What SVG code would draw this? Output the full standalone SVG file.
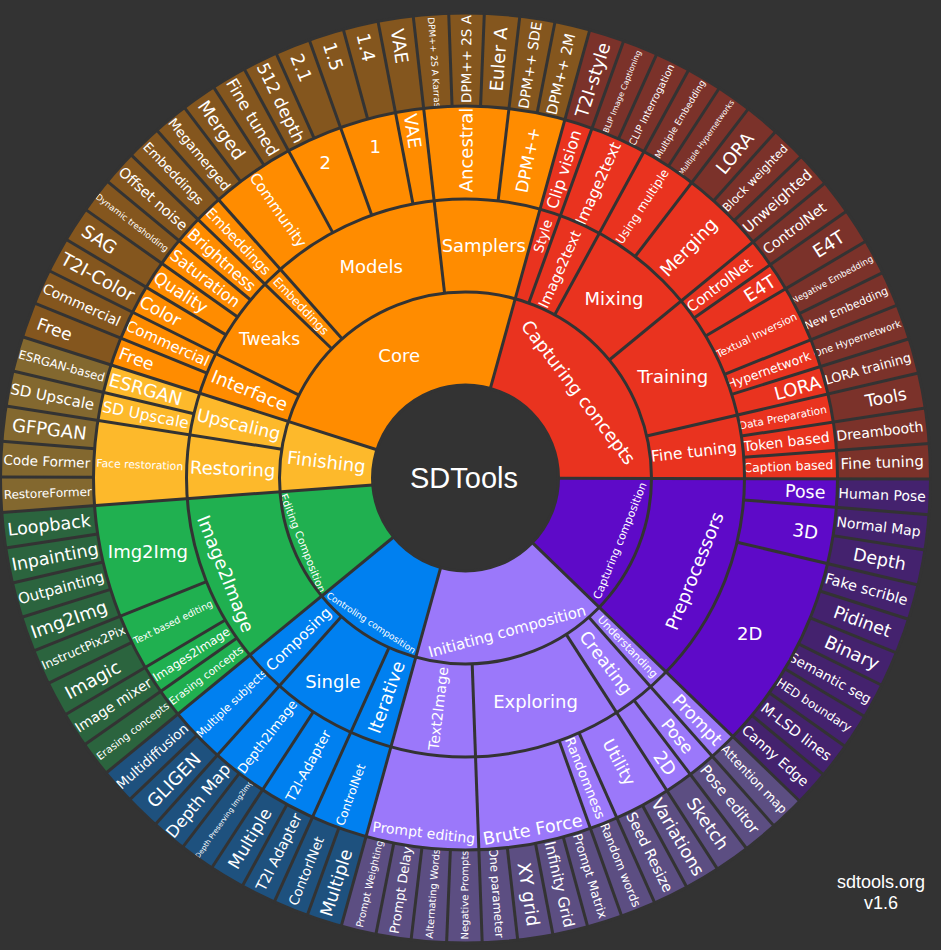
<svg xmlns="http://www.w3.org/2000/svg" width="941" height="950" viewBox="0 0 941 950">
<style>
circle{fill:none;stroke-width:93}
.c1{stroke:#ff8c00}.c2{stroke:#e9331f}.c3{stroke:#5e0ac8}.c4{stroke:#9b78fa}.c5{stroke:#0080f0}.c6{stroke:#20b050}.c7{stroke:#fdb92b}
.o{stroke-opacity:.4}
text{font-family:"DejaVu Sans",Verdana,sans-serif;fill:#fff;text-anchor:middle;dominant-baseline:central}
#borders line,#borders circle{stroke:#333;stroke-width:3;fill:none}
.plain{font-family:"Liberation Sans",Arial,sans-serif}
</style>
<rect width="941" height="950" fill="#333"/>
<g transform="translate(465.5 478)">
<!-- Level 1 -->
<g id="n-core"><circle r="139.5" class="c1" pathLength="360" stroke-dasharray="87.8 360" transform="rotate(197.69)"/><text transform="rotate(331.6) translate(0 -139.5) rotate(-331.6)" font-size="18">Core</text></g>
<g id="n-capturing-concepts"><circle r="139.5" class="c2" pathLength="360" stroke-dasharray="74.63 360" transform="rotate(-74.5)"/><text transform="rotate(52.8) translate(0 -142)" font-size="18">Capturing concepts</text></g>
<g id="n-capturing-composition"><circle r="139.5" class="c3" pathLength="360" stroke-dasharray="43.9 360" transform="rotate(0.13)"/><text transform="rotate(112.1) translate(0 -167) rotate(180)" font-size="11">Capturing composition</text></g>
<g id="n-initiating-composition"><circle r="139.5" class="c4" pathLength="360" stroke-dasharray="61.46 360" transform="rotate(44.04)"/><text transform="rotate(164.8) translate(0 -159) rotate(180)" font-size="15">Initiating composition</text></g>
<g id="n-controling-composition"><circle r="139.5" class="c5" pathLength="360" stroke-dasharray="35.12 360" transform="rotate(105.5)"/><text transform="rotate(213.1) translate(0 -173) rotate(180)" font-size="9">Controling composition</text></g>
<g id="n-editing-composition"><circle r="139.5" class="c6" pathLength="360" stroke-dasharray="35.12 360" transform="rotate(140.62)"/><text transform="rotate(248.2) translate(0 -175) rotate(180)" font-size="10.5">Editing Composition</text></g>
<g id="n-finishing"><circle r="139.5" class="c7" pathLength="360" stroke-dasharray="21.95 360" transform="rotate(175.74)"/><text transform="rotate(276.7) translate(0 -140) rotate(90)" font-size="18">Finishing</text></g>

<!-- Level 2 -->
<g id="n-interface"><circle r="232.5" class="c1" pathLength="360" stroke-dasharray="8.78 360" transform="rotate(197.69)"/><text transform="rotate(292.1) translate(0 -233) rotate(90)" font-size="18">Interface</text></g>
<g id="n-tweaks"><circle r="232.5" class="c1" pathLength="360" stroke-dasharray="17.56 360" transform="rotate(206.47)"/><text transform="rotate(305.25) translate(0 -240) rotate(-305.25)" font-size="17">Tweaks</text></g>
<g id="n-embeddings-2"><circle r="232.5" class="c1" pathLength="360" stroke-dasharray="4.39 360" transform="rotate(224.03)"/><text transform="rotate(316.2) translate(0 -238) rotate(90)" font-size="12">Embeddings</text></g>
<g id="n-models"><circle r="232.5" class="c1" pathLength="360" stroke-dasharray="35.12 360" transform="rotate(228.42)"/><text transform="rotate(336) translate(0 -232) rotate(-336)" font-size="18">Models</text></g>
<g id="n-samplers"><circle r="232.5" class="c1" pathLength="360" stroke-dasharray="21.95 360" transform="rotate(263.54)"/><text transform="rotate(4.5) translate(0 -233) rotate(-4.5)" font-size="18">Samplers</text></g>
<g id="n-style"><circle r="232.5" class="c2" pathLength="360" stroke-dasharray="4.39 360" transform="rotate(-74.5)"/><text transform="rotate(17.7) translate(0 -254) rotate(-90)" font-size="13.5">Style</text></g>
<g id="n-image2text-2"><circle r="232.5" class="c2" pathLength="360" stroke-dasharray="8.78 360" transform="rotate(-70.11)"/><text transform="rotate(24.3) translate(0 -229) rotate(-90)" font-size="14.5">Image2text</text></g>
<g id="n-mixing"><circle r="232.5" class="c2" pathLength="360" stroke-dasharray="21.95 360" transform="rotate(-61.33)"/><text transform="rotate(39.6) translate(0 -233) rotate(-39.6)" font-size="18">Mixing</text></g>
<g id="n-training"><circle r="232.5" class="c2" pathLength="360" stroke-dasharray="26.34 360" transform="rotate(-39.38)"/><text transform="rotate(63.8) translate(0 -231) rotate(-63.8)" font-size="18">Training</text></g>
<g id="n-fine-tuning-2"><circle r="232.5" class="c2" pathLength="360" stroke-dasharray="13.17 360" transform="rotate(-13.04)"/><text transform="rotate(83.5) translate(0 -230) rotate(-90)" font-size="15.5">Fine tuning</text></g>
<g id="n-preprocessors"><circle r="232.5" class="c3" pathLength="360" stroke-dasharray="43.9 360" transform="rotate(0.13)"/><text transform="rotate(112.1) translate(0 -247) rotate(180)" font-size="18">Preprocessors</text></g>
<g id="n-understanding"><circle r="232.5" class="c4" pathLength="360" stroke-dasharray="4.39 360" transform="rotate(44.04)"/><text transform="rotate(136.2) translate(0 -234) rotate(-90)" font-size="11">Understanding</text></g>
<g id="n-creating"><circle r="232.5" class="c4" pathLength="360" stroke-dasharray="8.78 360" transform="rotate(48.43)"/><text transform="rotate(142.8) translate(0 -232) rotate(-90)" font-size="17.5">Creating</text></g>
<g id="n-exploring"><circle r="232.5" class="c4" pathLength="360" stroke-dasharray="30.73 360" transform="rotate(57.21)"/><text transform="rotate(162.6) translate(0 -234) rotate(-162.6)" font-size="18">Exploring</text></g>
<g id="n-text2image"><circle r="232.5" class="c4" pathLength="360" stroke-dasharray="17.56 360" transform="rotate(87.94)"/><text transform="rotate(186.7) translate(0 -232) rotate(90)" font-size="14.5">Text2Image</text></g>
<g id="n-iterative"><circle r="232.5" class="c5" pathLength="360" stroke-dasharray="8.78 360" transform="rotate(105.5)"/><text transform="rotate(199.9) translate(0 -233) rotate(90)" font-size="18">Iterative</text></g>
<g id="n-single"><circle r="232.5" class="c5" pathLength="360" stroke-dasharray="17.56 360" transform="rotate(114.28)"/><text transform="rotate(213.1) translate(0 -243) rotate(-213.1)" font-size="18">Single</text></g>
<g id="n-composing"><circle r="232.5" class="c5" pathLength="360" stroke-dasharray="8.78 360" transform="rotate(131.84)"/><text transform="rotate(226) translate(0 -232) rotate(90)" font-size="15">Composing</text></g>
<g id="n-image2image"><circle r="232.5" class="c6" pathLength="360" stroke-dasharray="35.12 360" transform="rotate(140.62)"/><text transform="rotate(248.2) translate(0 -258) rotate(180)" font-size="18">Image2Image</text></g>
<g id="n-restoring"><circle r="232.5" class="c7" pathLength="360" stroke-dasharray="13.17 360" transform="rotate(175.74)"/><text transform="rotate(272.3) translate(0 -233) rotate(90)" font-size="18">Restoring</text></g>
<g id="n-upscaling"><circle r="232.5" class="c7" pathLength="360" stroke-dasharray="8.78 360" transform="rotate(188.91)"/><text transform="rotate(283.3) translate(0 -233) rotate(90)" font-size="17.5">Upscaling</text></g>

<!-- Level 3 -->
<g id="n-free-3"><circle r="325.5" class="c1" pathLength="360" stroke-dasharray="4.39 360" transform="rotate(197.69)"/><text transform="rotate(289.9) translate(0 -350) rotate(90)" font-size="17">Free</text></g>
<g id="n-commercial-3"><circle r="325.5" class="c1" pathLength="360" stroke-dasharray="4.39 360" transform="rotate(202.08)"/><text transform="rotate(294.3) translate(0 -327) rotate(90)" font-size="15">Commercial</text></g>
<g id="n-color"><circle r="325.5" class="c1" pathLength="360" stroke-dasharray="4.39 360" transform="rotate(206.47)"/><text transform="rotate(298.7) translate(0 -348) rotate(90)" font-size="17">Color</text></g>
<g id="n-quality"><circle r="325.5" class="c1" pathLength="360" stroke-dasharray="4.39 360" transform="rotate(210.86)"/><text transform="rotate(303.1) translate(0 -340) rotate(90)" font-size="17">Quality</text></g>
<g id="n-saturation"><circle r="325.5" class="c1" pathLength="360" stroke-dasharray="4.39 360" transform="rotate(215.25)"/><text transform="rotate(307.45) translate(0 -328) rotate(90)" font-size="16">Saturation</text></g>
<g id="n-brightness"><circle r="325.5" class="c1" pathLength="360" stroke-dasharray="4.39 360" transform="rotate(219.64)"/><text transform="rotate(311.8) translate(0 -327) rotate(90)" font-size="16">Brightness</text></g>
<g id="n-embeddings-3"><circle r="325.5" class="c1" pathLength="360" stroke-dasharray="4.39 360" transform="rotate(224.03)"/><text transform="rotate(316.2) translate(0 -328) rotate(90)" font-size="14">Embeddings</text></g>
<g id="n-community"><circle r="325.5" class="c1" pathLength="360" stroke-dasharray="13.17 360" transform="rotate(228.42)"/><text transform="rotate(325) translate(0 -327) rotate(90)" font-size="15">Community</text></g>
<g id="n-v2"><circle r="325.5" class="c1" pathLength="360" stroke-dasharray="8.78 360" transform="rotate(241.59)"/><text transform="rotate(336) translate(0 -345) rotate(-336)" font-size="18">2</text></g>
<g id="n-v1"><circle r="325.5" class="c1" pathLength="360" stroke-dasharray="8.78 360" transform="rotate(250.37)"/><text transform="rotate(344.8) translate(0 -344) rotate(-344.8)" font-size="18">1</text></g>
<g id="n-vae-3"><circle r="325.5" class="c1" pathLength="360" stroke-dasharray="4.39 360" transform="rotate(259.15)"/><text transform="rotate(351.35) translate(0 -351) rotate(90)" font-size="18">VAE</text></g>
<g id="n-ancestral"><circle r="325.5" class="c1" pathLength="360" stroke-dasharray="13.17 360" transform="rotate(263.54)"/><text transform="rotate(0.1) translate(0 -328) rotate(-90)" font-size="18">Ancestral</text></g>
<g id="n-dpmpp"><circle r="325.5" class="c1" pathLength="360" stroke-dasharray="8.78 360" transform="rotate(276.71)"/><text transform="rotate(11.1) translate(0 -324) rotate(-90)" font-size="17">DPM++</text></g>
<g id="n-clip-vision"><circle r="325.5" class="c2" pathLength="360" stroke-dasharray="4.39 360" transform="rotate(-74.5)"/><text transform="rotate(17.7) translate(0 -324) rotate(-90)" font-size="16">Clip vision</text></g>
<g id="n-image2text-3"><circle r="325.5" class="c2" pathLength="360" stroke-dasharray="8.78 360" transform="rotate(-70.11)"/><text transform="rotate(24.3) translate(0 -323) rotate(-90)" font-size="15.5">Image2text</text></g>
<g id="n-using-multiple"><circle r="325.5" class="c2" pathLength="360" stroke-dasharray="8.78 360" transform="rotate(-61.33)"/><text transform="rotate(33.1) translate(0 -324) rotate(-90)" font-size="12">Using multiple</text></g>
<g id="n-merging"><circle r="325.5" class="c2" pathLength="360" stroke-dasharray="13.17 360" transform="rotate(-52.55)"/><text transform="rotate(44) translate(0 -321) rotate(-90)" font-size="18">Merging</text></g>
<g id="n-controlnet-3"><circle r="325.5" class="c2" pathLength="360" stroke-dasharray="4.39 360" transform="rotate(-39.38)"/><text transform="rotate(52.8) translate(0 -319) rotate(-90)" font-size="14.5">ControlNet</text></g>
<g id="n-e4t-3"><circle r="325.5" class="c2" pathLength="360" stroke-dasharray="4.39 360" transform="rotate(-34.99)"/><text transform="rotate(57.2) translate(0 -350) rotate(-90)" font-size="18">E4T</text></g>
<g id="n-textual-inversion"><circle r="325.5" class="c2" pathLength="360" stroke-dasharray="8.78 360" transform="rotate(-30.6)"/><text transform="rotate(63.8) translate(0 -324) rotate(-90)" font-size="10.5">Textual Inversion</text></g>
<g id="n-hypernetwork"><circle r="325.5" class="c2" pathLength="360" stroke-dasharray="4.39 360" transform="rotate(-21.82)"/><text transform="rotate(70.4) translate(0 -322) rotate(-90)" font-size="12.5">Hypernetwork</text></g>
<g id="n-lora-3"><circle r="325.5" class="c2" pathLength="360" stroke-dasharray="4.39 360" transform="rotate(-17.43)"/><text transform="rotate(74.8) translate(0 -344) rotate(-90)" font-size="18">LORA</text></g>
<g id="n-data-preparation"><circle r="325.5" class="c2" pathLength="360" stroke-dasharray="4.39 360" transform="rotate(-13.04)"/><text transform="rotate(79.15) translate(0 -323) rotate(-90)" font-size="10.5">Data Preparation</text></g>
<g id="n-token-based"><circle r="325.5" class="c2" pathLength="360" stroke-dasharray="4.39 360" transform="rotate(-8.65)"/><text transform="rotate(83.55) translate(0 -323) rotate(-90)" font-size="14">Token based</text></g>
<g id="n-caption-based"><circle r="325.5" class="c2" pathLength="360" stroke-dasharray="4.39 360" transform="rotate(-4.26)"/><text transform="rotate(87.9) translate(0 -323) rotate(-90)" font-size="12.5">Caption based</text></g>
<g id="n-pose-3a"><circle r="325.5" class="c3" pathLength="360" stroke-dasharray="4.39 360" transform="rotate(0.13)"/><text transform="rotate(92.3) translate(0 -340) rotate(-90)" font-size="17.5">Pose</text></g>
<g id="n-3d"><circle r="325.5" class="c3" pathLength="360" stroke-dasharray="8.78 360" transform="rotate(4.52)"/><text transform="rotate(98.9) translate(0 -344) rotate(-90)" font-size="18">3D</text></g>
<g id="n-2d-3a"><circle r="325.5" class="c3" pathLength="360" stroke-dasharray="30.73 360" transform="rotate(13.3)"/><text transform="rotate(118.7) translate(0 -324) rotate(-118.7)" font-size="18">2D</text></g>
<g id="n-prompt"><circle r="325.5" class="c4" pathLength="360" stroke-dasharray="4.39 360" transform="rotate(44.04)"/><text transform="rotate(136.2) translate(0 -335) rotate(-90)" font-size="17.5">Prompt</text></g>
<g id="n-pose-3b"><circle r="325.5" class="c4" pathLength="360" stroke-dasharray="4.39 360" transform="rotate(48.43)"/><text transform="rotate(140.6) translate(0 -334) rotate(-90)" font-size="17">Pose</text></g>
<g id="n-2d-3b"><circle r="325.5" class="c4" pathLength="360" stroke-dasharray="4.39 360" transform="rotate(52.82)"/><text transform="rotate(145) translate(0 -348) rotate(-90)" font-size="18">2D</text></g>
<g id="n-utility"><circle r="325.5" class="c4" pathLength="360" stroke-dasharray="8.78 360" transform="rotate(57.21)"/><text transform="rotate(151.6) translate(0 -323) rotate(-90)" font-size="17">Utility</text></g>
<g id="n-randomness"><circle r="325.5" class="c4" pathLength="360" stroke-dasharray="4.39 360" transform="rotate(65.99)"/><text transform="rotate(158.2) translate(0 -323) rotate(-90)" font-size="13.5">Randomness</text></g>
<g id="n-brute-force"><circle r="325.5" class="c4" pathLength="360" stroke-dasharray="17.56 360" transform="rotate(70.38)"/><text transform="rotate(169.2) translate(0 -358) rotate(180)" font-size="17.5">Brute Force</text></g>
<g id="n-prompt-editing"><circle r="325.5" class="c4" pathLength="360" stroke-dasharray="17.56 360" transform="rotate(87.94)"/><text transform="rotate(186.7) translate(0 -357) rotate(180)" font-size="14">Prompt editing</text></g>
<g id="n-controlnet-3b"><circle r="325.5" class="c5" pathLength="360" stroke-dasharray="8.78 360" transform="rotate(105.5)"/><text transform="rotate(199.9) translate(0 -337) rotate(90)" font-size="12">ControlNet</text></g>
<g id="n-t2i-adapter-3"><circle r="325.5" class="c5" pathLength="360" stroke-dasharray="8.78 360" transform="rotate(114.28)"/><text transform="rotate(208.7) translate(0 -328) rotate(90)" font-size="13.5">T2I-Adapter</text></g>
<g id="n-depth2image"><circle r="325.5" class="c5" pathLength="360" stroke-dasharray="8.78 360" transform="rotate(123.06)"/><text transform="rotate(217.45) translate(0 -326) rotate(90)" font-size="13">Depth2Image</text></g>
<g id="n-multiple-subjects"><circle r="325.5" class="c5" pathLength="360" stroke-dasharray="8.78 360" transform="rotate(131.84)"/><text transform="rotate(226) translate(0 -325) rotate(90)" font-size="11">Multiple subjects</text></g>
<g id="n-erasing-concepts-3"><circle r="325.5" class="c6" pathLength="360" stroke-dasharray="4.39 360" transform="rotate(140.62)"/><text transform="rotate(232.8) translate(0 -326) rotate(90)" font-size="10.5">Erasing concepts</text></g>
<g id="n-images2image"><circle r="325.5" class="c6" pathLength="360" stroke-dasharray="4.39 360" transform="rotate(145.01)"/><text transform="rotate(237.2) translate(0 -326) rotate(90)" font-size="12">Images2Image</text></g>
<g id="n-text-based-editing"><circle r="325.5" class="c6" pathLength="360" stroke-dasharray="8.78 360" transform="rotate(149.4)"/><text transform="rotate(243.8) translate(0 -326) rotate(90)" font-size="9.5">Text based editing</text></g>
<g id="n-img2img-3"><circle r="325.5" class="c6" pathLength="360" stroke-dasharray="17.56 360" transform="rotate(158.18)"/><text transform="rotate(257) translate(0 -326) rotate(-257)" font-size="18">Img2Img</text></g>
<g id="n-face-restoration"><circle r="325.5" class="c7" pathLength="360" stroke-dasharray="13.17 360" transform="rotate(175.74)"/><text transform="rotate(272.3) translate(0 -326) rotate(90)" font-size="10.8">Face restoration</text></g>
<g id="n-sd-upscale-3"><circle r="325.5" class="c7" pathLength="360" stroke-dasharray="4.39 360" transform="rotate(188.91)"/><text transform="rotate(281.1) translate(0 -326) rotate(90)" font-size="15.5">SD Upscale</text></g>
<g id="n-esrgan"><circle r="325.5" class="c7" pathLength="360" stroke-dasharray="4.39 360" transform="rotate(193.3)"/><text transform="rotate(285.5) translate(0 -332) rotate(90)" font-size="18">ESRGAN</text></g>

<!-- Level 4 (leaves) -->
<g id="n-t2i-style"><circle r="418.5" class="c2 o" pathLength="360" stroke-dasharray="4.39 360" transform="rotate(-74.5)"/><text transform="rotate(17.7) translate(0 -418) rotate(-90)" font-size="18">T2I-style</text></g>
<g id="n-blip"><circle r="418.5" class="c2 o" pathLength="360" stroke-dasharray="4.39 360" transform="rotate(-70.11)"/><text transform="rotate(22.1) translate(0 -417) rotate(-90)" font-size="7.8">BLIP Image Captioning</text></g>
<g id="n-clip-interrogation"><circle r="418.5" class="c2 o" pathLength="360" stroke-dasharray="4.39 360" transform="rotate(-65.72)"/><text transform="rotate(26.5) translate(0 -417) rotate(-90)" font-size="10">CLIP Interrogation</text></g>
<g id="n-multiple-embedding"><circle r="418.5" class="c2 o" pathLength="360" stroke-dasharray="4.39 360" transform="rotate(-61.33)"/><text transform="rotate(30.9) translate(0 -418) rotate(-90)" font-size="9">Multiple Embedding</text></g>
<g id="n-multiple-hypernetworks"><circle r="418.5" class="c2 o" pathLength="360" stroke-dasharray="4.39 360" transform="rotate(-56.94)"/><text transform="rotate(35.3) translate(0 -417) rotate(-90)" font-size="7.6">Multiple Hypernetworks</text></g>
<g id="n-lora-4"><circle r="418.5" class="c2 o" pathLength="360" stroke-dasharray="4.39 360" transform="rotate(-52.55)"/><text transform="rotate(39.65) translate(0 -422) rotate(-90)" font-size="18">LORA</text></g>
<g id="n-block-weighted"><circle r="418.5" class="c2 o" pathLength="360" stroke-dasharray="4.39 360" transform="rotate(-48.16)"/><text transform="rotate(44) translate(0 -417) rotate(-90)" font-size="11.5">Block weighted</text></g>
<g id="n-unweighted"><circle r="418.5" class="c2 o" pathLength="360" stroke-dasharray="4.39 360" transform="rotate(-43.77)"/><text transform="rotate(48.4) translate(0 -417) rotate(-90)" font-size="14.5">Unweighted</text></g>
<g id="n-controlnet-4"><circle r="418.5" class="c2 o" pathLength="360" stroke-dasharray="4.39 360" transform="rotate(-39.38)"/><text transform="rotate(52.8) translate(0 -413) rotate(-90)" font-size="14">ControlNet</text></g>
<g id="n-e4t-4"><circle r="418.5" class="c2 o" pathLength="360" stroke-dasharray="4.39 360" transform="rotate(-34.99)"/><text transform="rotate(57.2) translate(0 -432) rotate(-90)" font-size="18">E4T</text></g>
<g id="n-negative-embedding"><circle r="418.5" class="c2 o" pathLength="360" stroke-dasharray="4.39 360" transform="rotate(-30.6)"/><text transform="rotate(61.6) translate(0 -417) rotate(-90)" font-size="8.7">Negative Embedding</text></g>
<g id="n-new-embedding"><circle r="418.5" class="c2 o" pathLength="360" stroke-dasharray="4.39 360" transform="rotate(-26.21)"/><text transform="rotate(66) translate(0 -417) rotate(-90)" font-size="11">New Embedding</text></g>
<g id="n-one-hypernetwork"><circle r="418.5" class="c2 o" pathLength="360" stroke-dasharray="4.39 360" transform="rotate(-21.82)"/><text transform="rotate(70.4) translate(0 -416) rotate(-90)" font-size="9.8">One Hypernetwork</text></g>
<g id="n-lora-training"><circle r="418.5" class="c2 o" pathLength="360" stroke-dasharray="4.39 360" transform="rotate(-17.43)"/><text transform="rotate(74.8) translate(0 -417) rotate(-90)" font-size="13">LORA training</text></g>
<g id="n-tools"><circle r="418.5" class="c2 o" pathLength="360" stroke-dasharray="4.39 360" transform="rotate(-13.04)"/><text transform="rotate(79.15) translate(0 -428) rotate(-90)" font-size="17">Tools</text></g>
<g id="n-dreambooth"><circle r="418.5" class="c2 o" pathLength="360" stroke-dasharray="4.39 360" transform="rotate(-8.65)"/><text transform="rotate(83.55) translate(0 -417) rotate(-90)" font-size="14">Dreambooth</text></g>
<g id="n-fine-tuning-4"><circle r="418.5" class="c2 o" pathLength="360" stroke-dasharray="4.39 360" transform="rotate(-4.26)"/><text transform="rotate(87.9) translate(0 -417) rotate(-90)" font-size="15">Fine tuning</text></g>

<g id="n-human-pose"><circle r="418.5" class="c3 o" pathLength="360" stroke-dasharray="4.39 360" transform="rotate(0.13)"/><text transform="rotate(92.3) translate(0 -417) rotate(-90)" font-size="14">Human Pose</text></g>
<g id="n-normal-map"><circle r="418.5" class="c3 o" pathLength="360" stroke-dasharray="4.39 360" transform="rotate(4.52)"/><text transform="rotate(96.7) translate(0 -416) rotate(-90)" font-size="14">Normal Map</text></g>
<g id="n-depth"><circle r="418.5" class="c3 o" pathLength="360" stroke-dasharray="4.39 360" transform="rotate(8.91)"/><text transform="rotate(101.1) translate(0 -422) rotate(-90)" font-size="17.5">Depth</text></g>
<g id="n-fake-scrible"><circle r="418.5" class="c3 o" pathLength="360" stroke-dasharray="4.39 360" transform="rotate(13.3)"/><text transform="rotate(105.5) translate(0 -416) rotate(-90)" font-size="14.5">Fake scrible</text></g>
<g id="n-pidinet"><circle r="418.5" class="c3 o" pathLength="360" stroke-dasharray="4.39 360" transform="rotate(17.69)"/><text transform="rotate(109.9) translate(0 -422) rotate(-90)" font-size="17.5">Pidinet</text></g>
<g id="n-binary"><circle r="418.5" class="c3 o" pathLength="360" stroke-dasharray="4.39 360" transform="rotate(22.08)"/><text transform="rotate(114.3) translate(0 -424) rotate(-90)" font-size="18">Binary</text></g>
<g id="n-semantic-seg"><circle r="418.5" class="c3 o" pathLength="360" stroke-dasharray="4.39 360" transform="rotate(26.47)"/><text transform="rotate(118.7) translate(0 -416) rotate(-90)" font-size="13.5">Semantic seg</text></g>
<g id="n-hed-boundary"><circle r="418.5" class="c3 o" pathLength="360" stroke-dasharray="4.39 360" transform="rotate(30.86)"/><text transform="rotate(123.1) translate(0 -416) rotate(-90)" font-size="12">HED boundary</text></g>
<g id="n-mlsd-lines"><circle r="418.5" class="c3 o" pathLength="360" stroke-dasharray="4.39 360" transform="rotate(35.26)"/><text transform="rotate(127.5) translate(0 -417) rotate(-90)" font-size="14.5">M-LSD lines</text></g>
<g id="n-canny-edge"><circle r="418.5" class="c3 o" pathLength="360" stroke-dasharray="4.39 360" transform="rotate(39.65)"/><text transform="rotate(131.85) translate(0 -416) rotate(-90)" font-size="14">Canny Edge</text></g>

<g id="n-attention-map"><circle r="418.5" class="c4 o" pathLength="360" stroke-dasharray="4.39 360" transform="rotate(44.04)"/><text transform="rotate(136.2) translate(0 -417) rotate(-90)" font-size="12.5">Attention map</text></g>
<g id="n-pose-editor"><circle r="418.5" class="c4 o" pathLength="360" stroke-dasharray="4.39 360" transform="rotate(48.43)"/><text transform="rotate(140.6) translate(0 -416) rotate(-90)" font-size="15">Pose editor</text></g>
<g id="n-sketch"><circle r="418.5" class="c4 o" pathLength="360" stroke-dasharray="4.39 360" transform="rotate(52.82)"/><text transform="rotate(145) translate(0 -422) rotate(-90)" font-size="17.5">Sketch</text></g>
<g id="n-variations"><circle r="418.5" class="c4 o" pathLength="360" stroke-dasharray="4.39 360" transform="rotate(57.21)"/><text transform="rotate(149.4) translate(0 -417) rotate(-90)" font-size="17.5">Variations</text></g>
<g id="n-seed-resize"><circle r="418.5" class="c4 o" pathLength="360" stroke-dasharray="4.39 360" transform="rotate(61.6)"/><text transform="rotate(153.8) translate(0 -417) rotate(-90)" font-size="14.5">Seed Resize</text></g>
<g id="n-random-words"><circle r="418.5" class="c4 o" pathLength="360" stroke-dasharray="4.39 360" transform="rotate(65.99)"/><text transform="rotate(158.2) translate(0 -417) rotate(-90)" font-size="12">Random words</text></g>
<g id="n-prompt-matrix"><circle r="418.5" class="c4 o" pathLength="360" stroke-dasharray="4.39 360" transform="rotate(70.38)"/><text transform="rotate(162.6) translate(0 -417) rotate(-90)" font-size="12.5">Prompt Matrix</text></g>
<g id="n-infinity-grid"><circle r="418.5" class="c4 o" pathLength="360" stroke-dasharray="4.39 360" transform="rotate(74.77)"/><text transform="rotate(167) translate(0 -417) rotate(-90)" font-size="15">Infinity Grid</text></g>
<g id="n-xy-grid"><circle r="418.5" class="c4 o" pathLength="360" stroke-dasharray="4.39 360" transform="rotate(79.16)"/><text transform="rotate(171.35) translate(0 -421) rotate(-90)" font-size="18">XY grid</text></g>
<g id="n-one-parameter"><circle r="418.5" class="c4 o" pathLength="360" stroke-dasharray="4.39 360" transform="rotate(83.55)"/><text transform="rotate(175.75) translate(0 -416) rotate(-90)" font-size="11.8">One parameter</text></g>
<g id="n-negative-prompts"><circle r="418.5" class="c4 o" pathLength="360" stroke-dasharray="4.39 360" transform="rotate(87.94)"/><text transform="rotate(180.1) translate(0 -417) rotate(90)" font-size="10">Negative Prompts</text></g>
<g id="n-alternating-words"><circle r="418.5" class="c4 o" pathLength="360" stroke-dasharray="4.39 360" transform="rotate(92.33)"/><text transform="rotate(184.5) translate(0 -417) rotate(90)" font-size="10">Alternating Words</text></g>
<g id="n-prompt-delay"><circle r="418.5" class="c4 o" pathLength="360" stroke-dasharray="4.39 360" transform="rotate(96.72)"/><text transform="rotate(188.9) translate(0 -417) rotate(90)" font-size="13">Prompt Delay</text></g>
<g id="n-prompt-weighting"><circle r="418.5" class="c4 o" pathLength="360" stroke-dasharray="4.39 360" transform="rotate(101.11)"/><text transform="rotate(193.3) translate(0 -417) rotate(90)" font-size="10">Prompt Weighting</text></g>

<g id="n-multiple-a"><circle r="418.5" class="c5 o" pathLength="360" stroke-dasharray="4.39 360" transform="rotate(105.5)"/><text transform="rotate(197.7) translate(0 -425) rotate(90)" font-size="17.5">Multiple</text></g>
<g id="n-contorlnet"><circle r="418.5" class="c5 o" pathLength="360" stroke-dasharray="4.39 360" transform="rotate(109.89)"/><text transform="rotate(202.1) translate(0 -424) rotate(90)" font-size="13.5">ContorlNet</text></g>
<g id="n-t2i-adapter-4"><circle r="418.5" class="c5 o" pathLength="360" stroke-dasharray="4.39 360" transform="rotate(114.28)"/><text transform="rotate(206.5) translate(0 -418) rotate(90)" font-size="14.5">T2I Adapter</text></g>
<g id="n-multiple-b"><circle r="418.5" class="c5 o" pathLength="360" stroke-dasharray="4.39 360" transform="rotate(118.67)"/><text transform="rotate(210.9) translate(0 -420) rotate(90)" font-size="17">Multiple</text></g>
<g id="n-depth-preserving"><circle r="418.5" class="c5 o" pathLength="360" stroke-dasharray="4.39 360" transform="rotate(123.06)"/><text transform="rotate(215.25) translate(0 -418) rotate(90)" font-size="7">Depth Preserving Img2Img</text></g>
<g id="n-depth-map"><circle r="418.5" class="c5 o" pathLength="360" stroke-dasharray="4.39 360" transform="rotate(127.45)"/><text transform="rotate(219.6) translate(0 -419) rotate(90)" font-size="16.5">Depth Map</text></g>
<g id="n-gligen"><circle r="418.5" class="c5 o" pathLength="360" stroke-dasharray="4.39 360" transform="rotate(131.84)"/><text transform="rotate(224) translate(0 -420) rotate(90)" font-size="18">GLIGEN</text></g>
<g id="n-multidiffusion"><circle r="418.5" class="c5 o" pathLength="360" stroke-dasharray="4.39 360" transform="rotate(136.23)"/><text transform="rotate(228.4) translate(0 -419) rotate(90)" font-size="13.5">Multidiffusion</text></g>

<g id="n-erasing-concepts-4"><circle r="418.5" class="c6 o" pathLength="360" stroke-dasharray="4.39 360" transform="rotate(140.62)"/><text transform="rotate(232.8) translate(0 -418) rotate(90)" font-size="10.3">Erasing concepts</text></g>
<g id="n-image-mixer"><circle r="418.5" class="c6 o" pathLength="360" stroke-dasharray="4.39 360" transform="rotate(145.01)"/><text transform="rotate(237.2) translate(0 -419) rotate(90)" font-size="14">Image mixer</text></g>
<g id="n-imagic"><circle r="418.5" class="c6 o" pathLength="360" stroke-dasharray="4.39 360" transform="rotate(149.4)"/><text transform="rotate(241.6) translate(0 -424) rotate(90)" font-size="18">Imagic</text></g>
<g id="n-instructpix2pix"><circle r="418.5" class="c6 o" pathLength="360" stroke-dasharray="4.39 360" transform="rotate(153.79)"/><text transform="rotate(246) translate(0 -418) rotate(90)" font-size="12.3">InstructPix2Pix</text></g>
<g id="n-img2img-4"><circle r="418.5" class="c6 o" pathLength="360" stroke-dasharray="4.39 360" transform="rotate(158.18)"/><text transform="rotate(250.4) translate(0 -421) rotate(90)" font-size="18">Img2Img</text></g>
<g id="n-outpainting"><circle r="418.5" class="c6 o" pathLength="360" stroke-dasharray="4.39 360" transform="rotate(162.57)"/><text transform="rotate(254.8) translate(0 -419) rotate(90)" font-size="15">Outpainting</text></g>
<g id="n-inpainting"><circle r="418.5" class="c6 o" pathLength="360" stroke-dasharray="4.39 360" transform="rotate(166.96)"/><text transform="rotate(259.15) translate(0 -418) rotate(90)" font-size="17.5">Inpainting</text></g>
<g id="n-loopback"><circle r="418.5" class="c6 o" pathLength="360" stroke-dasharray="4.39 360" transform="rotate(171.35)"/><text transform="rotate(263.55) translate(0 -419) rotate(90)" font-size="17.5">Loopback</text></g>

<g id="n-restoreformer"><circle r="418.5" class="c7 o" pathLength="360" stroke-dasharray="4.39 360" transform="rotate(175.74)"/><text transform="rotate(267.9) translate(0 -418) rotate(90)" font-size="12">RestoreFormer</text></g>
<g id="n-code-former"><circle r="418.5" class="c7 o" pathLength="360" stroke-dasharray="4.39 360" transform="rotate(180.13)"/><text transform="rotate(272.3) translate(0 -419) rotate(90)" font-size="13.5">Code Former</text></g>
<g id="n-gfpgan"><circle r="418.5" class="c7 o" pathLength="360" stroke-dasharray="4.39 360" transform="rotate(184.52)"/><text transform="rotate(276.7) translate(0 -419) rotate(90)" font-size="18">GFPGAN</text></g>
<g id="n-sd-upscale-4"><circle r="418.5" class="c7 o" pathLength="360" stroke-dasharray="4.39 360" transform="rotate(188.91)"/><text transform="rotate(281.1) translate(0 -421) rotate(90)" font-size="15">SD Upscale</text></g>
<g id="n-esrgan-based"><circle r="418.5" class="c7 o" pathLength="360" stroke-dasharray="4.39 360" transform="rotate(193.3)"/><text transform="rotate(285.5) translate(0 -419) rotate(90)" font-size="11.8">ESRGAN-based</text></g>

<g id="n-free-4"><circle r="418.5" class="c1 o" pathLength="360" stroke-dasharray="4.39 360" transform="rotate(197.69)"/><text transform="rotate(289.9) translate(0 -437) rotate(90)" font-size="17">Free</text></g>
<g id="n-commercial-4"><circle r="418.5" class="c1 o" pathLength="360" stroke-dasharray="4.39 360" transform="rotate(202.08)"/><text transform="rotate(294.3) translate(0 -421) rotate(90)" font-size="14">Commercial</text></g>
<g id="n-t2i-color"><circle r="418.5" class="c1 o" pathLength="360" stroke-dasharray="4.39 360" transform="rotate(206.47)"/><text transform="rotate(298.7) translate(0 -419) rotate(90)" font-size="18">T2I-Color</text></g>
<g id="n-sag"><circle r="418.5" class="c1 o" pathLength="360" stroke-dasharray="4.39 360" transform="rotate(210.86)"/><text transform="rotate(303.1) translate(0 -437) rotate(90)" font-size="18">SAG</text></g>
<g id="n-dynamic-tresholding"><circle r="418.5" class="c1 o" pathLength="360" stroke-dasharray="4.39 360" transform="rotate(215.25)"/><text transform="rotate(307.45) translate(0 -420) rotate(90)" font-size="8.6">Dynamic tresholding</text></g>
<g id="n-offset-noise"><circle r="418.5" class="c1 o" pathLength="360" stroke-dasharray="4.39 360" transform="rotate(219.64)"/><text transform="rotate(311.8) translate(0 -419) rotate(90)" font-size="14.5">Offset noise</text></g>
<g id="n-embeddings-4"><circle r="418.5" class="c1 o" pathLength="360" stroke-dasharray="4.39 360" transform="rotate(224.03)"/><text transform="rotate(316.2) translate(0 -422) rotate(90)" font-size="13">Embeddings</text></g>
<g id="n-megamerged"><circle r="418.5" class="c1 o" pathLength="360" stroke-dasharray="4.39 360" transform="rotate(228.42)"/><text transform="rotate(320.6) translate(0 -419) rotate(90)" font-size="13.5">Megamerged</text></g>
<g id="n-merged"><circle r="418.5" class="c1 o" pathLength="360" stroke-dasharray="4.39 360" transform="rotate(232.81)"/><text transform="rotate(325) translate(0 -425) rotate(90)" font-size="18">Merged</text></g>
<g id="n-fine-tuned"><circle r="418.5" class="c1 o" pathLength="360" stroke-dasharray="4.39 360" transform="rotate(237.2)"/><text transform="rotate(329.4) translate(0 -419) rotate(90)" font-size="16.5">Fine tuned</text></g>
<g id="n-512-depth"><circle r="418.5" class="c1 o" pathLength="360" stroke-dasharray="4.39 360" transform="rotate(241.59)"/><text transform="rotate(333.8) translate(0 -418) rotate(90)" font-size="17">512 depth</text></g>
<g id="n-v21"><circle r="418.5" class="c1 o" pathLength="360" stroke-dasharray="4.39 360" transform="rotate(245.98)"/><text transform="rotate(338.2) translate(0 -442) rotate(90)" font-size="18">2.1</text></g>
<g id="n-v15"><circle r="418.5" class="c1 o" pathLength="360" stroke-dasharray="4.39 360" transform="rotate(250.37)"/><text transform="rotate(342.6) translate(0 -442) rotate(90)" font-size="18">1.5</text></g>
<g id="n-v14"><circle r="418.5" class="c1 o" pathLength="360" stroke-dasharray="4.39 360" transform="rotate(254.76)"/><text transform="rotate(347) translate(0 -442) rotate(90)" font-size="18">1.4</text></g>
<g id="n-vae-4"><circle r="418.5" class="c1 o" pathLength="360" stroke-dasharray="4.39 360" transform="rotate(259.15)"/><text transform="rotate(351.35) translate(0 -437) rotate(90)" font-size="18">VAE</text></g>
<g id="n-dpm-2sa-karras"><circle r="418.5" class="c1 o" pathLength="360" stroke-dasharray="4.39 360" transform="rotate(263.54)"/><text transform="rotate(355.7) translate(0 -417) rotate(90)" font-size="9">DPM++ 2S A Karras</text></g>
<g id="n-dpm-2sa"><circle r="418.5" class="c1 o" pathLength="360" stroke-dasharray="4.39 360" transform="rotate(267.93)"/><text transform="rotate(0.1) translate(0 -419) rotate(-90)" font-size="13.5">DPM++ 2S A</text></g>
<g id="n-euler-a"><circle r="418.5" class="c1 o" pathLength="360" stroke-dasharray="4.39 360" transform="rotate(272.32)"/><text transform="rotate(4.5) translate(0 -420) rotate(-90)" font-size="18">Euler A</text></g>
<g id="n-dpm-sde"><circle r="418.5" class="c1 o" pathLength="360" stroke-dasharray="4.39 360" transform="rotate(276.71)"/><text transform="rotate(8.9) translate(0 -418) rotate(-90)" font-size="14">DPM++ SDE</text></g>
<g id="n-dpm-2m"><circle r="418.5" class="c1 o" pathLength="360" stroke-dasharray="4.39 360" transform="rotate(281.1)"/><text transform="rotate(13.3) translate(0 -415) rotate(-90)" font-size="14.5">DPM++ 2M</text></g>

<g id="borders">
<circle r="93"/><circle r="186"/><circle r="279"/><circle r="372"/><circle r="465"/>
<g>
<line y1="-93" y2="-465" transform="rotate(15.5)"/><line y1="-93" y2="-465" transform="rotate(90.13)"/><line y1="-93" y2="-465" transform="rotate(134.04)"/><line y1="-93" y2="-465" transform="rotate(195.5)"/><line y1="-93" y2="-465" transform="rotate(230.62)"/><line y1="-93" y2="-465" transform="rotate(265.74)"/><line y1="-93" y2="-465" transform="rotate(287.69)"/>
</g>
<g>
<line y1="-186" y2="-465" transform="rotate(19.89)"/><line y1="-186" y2="-465" transform="rotate(28.67)"/><line y1="-186" y2="-465" transform="rotate(50.62)"/><line y1="-186" y2="-465" transform="rotate(76.96)"/><line y1="-186" y2="-465" transform="rotate(138.43)"/><line y1="-186" y2="-465" transform="rotate(147.21)"/><line y1="-186" y2="-465" transform="rotate(177.94)"/><line y1="-186" y2="-465" transform="rotate(204.28)"/><line y1="-186" y2="-465" transform="rotate(221.84)"/><line y1="-186" y2="-465" transform="rotate(278.91)"/><line y1="-186" y2="-465" transform="rotate(296.47)"/><line y1="-186" y2="-465" transform="rotate(314.03)"/><line y1="-186" y2="-465" transform="rotate(318.42)"/><line y1="-186" y2="-465" transform="rotate(353.54)"/>
</g>
<g>
<line y1="-279" y2="-465" transform="rotate(37.45)"/><line y1="-279" y2="-465" transform="rotate(55.01)"/><line y1="-279" y2="-465" transform="rotate(59.4)"/><line y1="-279" y2="-465" transform="rotate(68.18)"/><line y1="-279" y2="-465" transform="rotate(72.57)"/><line y1="-279" y2="-465" transform="rotate(81.35)"/><line y1="-279" y2="-465" transform="rotate(85.74)"/><line y1="-279" y2="-465" transform="rotate(94.52)"/><line y1="-279" y2="-465" transform="rotate(103.3)"/><line y1="-279" y2="-465" transform="rotate(142.82)"/><line y1="-279" y2="-465" transform="rotate(155.99)"/><line y1="-279" y2="-465" transform="rotate(160.38)"/><line y1="-279" y2="-465" transform="rotate(213.06)"/><line y1="-279" y2="-465" transform="rotate(235.01)"/><line y1="-279" y2="-465" transform="rotate(239.4)"/><line y1="-279" y2="-465" transform="rotate(248.18)"/><line y1="-279" y2="-465" transform="rotate(283.3)"/><line y1="-279" y2="-465" transform="rotate(292.08)"/><line y1="-279" y2="-465" transform="rotate(300.86)"/><line y1="-279" y2="-465" transform="rotate(305.25)"/><line y1="-279" y2="-465" transform="rotate(309.64)"/><line y1="-279" y2="-465" transform="rotate(331.59)"/><line y1="-279" y2="-465" transform="rotate(340.37)"/><line y1="-279" y2="-465" transform="rotate(349.15)"/><line y1="-279" y2="-465" transform="rotate(366.71)"/>
</g>
<g>
<line y1="-372" y2="-465" transform="rotate(24.28)"/><line y1="-372" y2="-465" transform="rotate(33.06)"/><line y1="-372" y2="-465" transform="rotate(41.84)"/><line y1="-372" y2="-465" transform="rotate(46.23)"/><line y1="-372" y2="-465" transform="rotate(63.79)"/><line y1="-372" y2="-465" transform="rotate(98.91)"/><line y1="-372" y2="-465" transform="rotate(107.69)"/><line y1="-372" y2="-465" transform="rotate(112.08)"/><line y1="-372" y2="-465" transform="rotate(116.47)"/><line y1="-372" y2="-465" transform="rotate(120.86)"/><line y1="-372" y2="-465" transform="rotate(125.26)"/><line y1="-372" y2="-465" transform="rotate(129.65)"/><line y1="-372" y2="-465" transform="rotate(151.6)"/><line y1="-372" y2="-465" transform="rotate(164.77)"/><line y1="-372" y2="-465" transform="rotate(169.16)"/><line y1="-372" y2="-465" transform="rotate(173.55)"/><line y1="-372" y2="-465" transform="rotate(182.33)"/><line y1="-372" y2="-465" transform="rotate(186.72)"/><line y1="-372" y2="-465" transform="rotate(191.11)"/><line y1="-372" y2="-465" transform="rotate(199.89)"/><line y1="-372" y2="-465" transform="rotate(208.67)"/><line y1="-372" y2="-465" transform="rotate(217.45)"/><line y1="-372" y2="-465" transform="rotate(226.23)"/><line y1="-372" y2="-465" transform="rotate(243.79)"/><line y1="-372" y2="-465" transform="rotate(252.57)"/><line y1="-372" y2="-465" transform="rotate(256.96)"/><line y1="-372" y2="-465" transform="rotate(261.35)"/><line y1="-372" y2="-465" transform="rotate(270.13)"/><line y1="-372" y2="-465" transform="rotate(274.52)"/><line y1="-372" y2="-465" transform="rotate(322.81)"/><line y1="-372" y2="-465" transform="rotate(327.2)"/><line y1="-372" y2="-465" transform="rotate(335.98)"/><line y1="-372" y2="-465" transform="rotate(344.76)"/><line y1="-372" y2="-465" transform="rotate(357.93)"/><line y1="-372" y2="-465" transform="rotate(362.32)"/><line y1="-372" y2="-465" transform="rotate(371.1)"/>
</g>
</g>

<g id="n-root"><text class="plain" x="-1.5" y="10" font-size="29" style="dominant-baseline:alphabetic">SDTools</text></g>
</g>
<g id="footer">
<text class="plain" x="881" y="888" font-size="18" style="dominant-baseline:alphabetic">sdtools.org</text>
<text class="plain" x="881" y="909" font-size="18" style="dominant-baseline:alphabetic">v1.6</text>
</g>
</svg>
